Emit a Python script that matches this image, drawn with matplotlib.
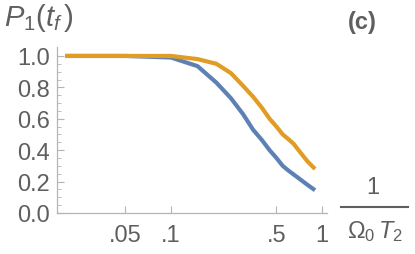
import matplotlib
matplotlib.use("Agg")
import matplotlib.pyplot as plt
from matplotlib.lines import Line2D

x_vals = [0.02, 0.05, 0.1, 0.15, 0.2, 0.25, 0.3, 0.35, 0.4, 0.45, 0.5, 0.55, 0.6, 0.65, 0.7, 0.8, 0.9]
blue_vals = [1.0, 1.0, 0.99, 0.935, 0.83, 0.73, 0.63, 0.53, 0.465, 0.40, 0.35, 0.30, 0.27, 0.245, 0.222, 0.18, 0.145]
orange_vals = [1.0, 1.0, 1.0, 0.98, 0.95, 0.89, 0.81, 0.74, 0.67, 0.60, 0.55, 0.50, 0.47, 0.44, 0.40, 0.33, 0.28]
x_ticks = [0.05, 0.1, 0.5, 1]
x_ticklabels = [".05", ".1", ".5", "1"]
y_ticks = [0.0, 0.2, 0.4, 0.6, 0.8, 1.0]
y_ticklabels = ["0.0", "0.2", "0.4", "0.6", "0.8", "1.0"]

plt.rcParams['font.family'] = ['Liberation Sans', 'DejaVu Sans']
plt.rcParams['mathtext.fontset'] = 'custom'
plt.rcParams['mathtext.rm'] = 'Liberation Sans'
plt.rcParams['mathtext.it'] = 'Liberation Sans:italic'
plt.rcParams['mathtext.bf'] = 'Liberation Sans:bold'

W, H = 415, 255
fig = plt.figure(figsize=(W / 100, H / 100), dpi=100)
ax = fig.add_axes([57 / W, (H - 214) / H, (327 - 57) / W, (214 - 48) / H])

tc = '#5f5f5f'
ac = '#b4b4b4'
ax.plot(x_vals, blue_vals, color='#5E81B5', lw=3.0, solid_capstyle='butt')
ax.plot(x_vals, orange_vals, color='#E19C24', lw=3.0, solid_capstyle='butt')

ax.set_xscale('log')
ax.set_xlim(0.0176, 1.08)
ax.set_ylim(0, 1.057)
ax.set_xticks(x_ticks)
ax.set_xticklabels(x_ticklabels)
ax.xaxis.set_minor_locator(matplotlib.ticker.NullLocator())
ax.set_yticks(y_ticks)
ax.set_yticklabels(y_ticklabels)
ax.set_yticks([0.05 * i for i in range(21) if i % 4 != 0], minor=True)

for s in ['top', 'right']:
    ax.spines[s].set_visible(False)
for s in ['left', 'bottom']:
    ax.spines[s].set_color(ac)
    ax.spines[s].set_linewidth(0.9)
ax.tick_params(which='major', direction='in', length=5, width=0.8, color=ac,
               labelcolor=tc, labelsize=17)
ax.tick_params(axis='x', which='major', pad=8)
ax.tick_params(axis='y', which='major', pad=5)
ax.tick_params(which='minor', direction='in', length=3, width=0.6, color=ac)

fig.text(39 / W, 1 - 18 / H, r'$P_1(t_f\,)$', fontsize=21, color=tc,
         ha='center', va='center')
fig.text(362 / W, 1 - 22 / H, '(c)', fontsize=17, fontweight='bold', color=tc,
         ha='center', va='center')
fig.text(373 / W, 1 - 188 / H, '1', fontsize=17, color=tc, ha='center', va='center')
fig.add_artist(Line2D([341 / W, 408 / W], [1 - 208 / H, 1 - 208 / H],
                      color=tc, lw=1.5, transform=fig.transFigure))
fig.text(375 / W, 1 - 232 / H, r'$\Omega_0\,T_2$', fontsize=17, color=tc,
         ha='center', va='center')

fig.savefig('out.png', dpi=100)
